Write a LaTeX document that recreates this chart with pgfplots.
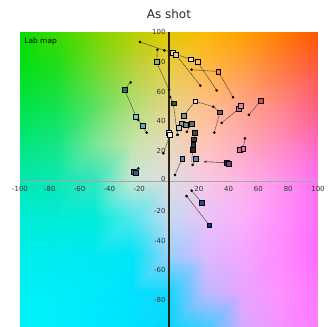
\begin{filecontents*}[overwrite]{labcells.dat}
0 1 10
0 10 9
1 2 11
1 11 10
2 3 12
2 12 11
3 4 13
3 13 12
4 5 14
4 14 13
5 6 15
5 15 14
6 7 16
6 16 15
7 8 17
7 17 16
9 10 19
9 19 18
10 11 20
10 20 19
11 12 21
11 21 20
12 13 22
12 22 21
13 14 23
13 23 22
14 15 24
14 24 23
15 16 25
15 25 24
16 17 26
16 26 25
18 19 28
18 28 27
19 20 29
19 29 28
20 21 30
20 30 29
21 22 31
21 31 30
22 23 32
22 32 31
23 24 33
23 33 32
24 25 34
24 34 33
25 26 35
25 35 34
27 28 37
27 37 36
28 29 38
28 38 37
29 30 39
29 39 38
30 31 40
30 40 39
31 32 41
31 41 40
32 33 42
32 42 41
33 34 43
33 43 42
34 35 44
34 44 43
36 37 46
36 46 45
37 38 47
37 47 46
38 39 48
38 48 47
39 40 49
39 49 48
40 41 50
40 50 49
41 42 51
41 51 50
42 43 52
42 52 51
43 44 53
43 53 52
45 46 55
45 55 54
46 47 56
46 56 55
47 48 57
47 57 56
48 49 58
48 58 57
49 50 59
49 59 58
50 51 60
50 60 59
51 52 61
51 61 60
52 53 62
52 62 61
54 55 64
54 64 63
55 56 65
55 65 64
56 57 66
56 66 65
57 58 67
57 67 66
58 59 68
58 68 67
59 60 69
59 69 68
60 61 70
60 70 69
61 62 71
61 71 70
63 64 73
63 73 72
64 65 74
64 74 73
65 66 75
65 75 74
66 67 76
66 76 75
67 68 77
67 77 76
68 69 78
68 78 77
69 70 79
69 79 78
70 71 80
70 80 79
\end{filecontents*}
\documentclass[border=0pt]{standalone}
\usepackage{pgfplots}
\usepackage{pgfplotstable}
\pgfplotsset{compat=1.18}
\usetikzlibrary{arrows.meta}
\usepackage{fontspec}
\setmainfont{DejaVu Sans}

% a*b* colour field on a 9x9 grid (L fixed), colours as 0-255 rgb
\pgfplotstableread{
x y c
-100 -100 rgb255=0,240,250
-75 -100 rgb255=0,238,252
-50 -100 rgb255=0,232,255
-25 -100 rgb255=0,225,255
0 -100 rgb255=0,215,255
25 -100 rgb255=60,205,255
50 -100 rgb255=215,170,255
75 -100 rgb255=245,145,255
100 -100 rgb255=255,125,255
-100 -75 rgb255=0,240,245
-75 -75 rgb255=0,238,248
-50 -75 rgb255=0,234,250
-25 -75 rgb255=0,226,255
0 -75 rgb255=20,215,255
25 -75 rgb255=190,185,255
50 -75 rgb255=232,165,255
75 -75 rgb255=255,145,255
100 -75 rgb255=255,120,255
-100 -50 rgb255=0,238,235
-75 -50 rgb255=0,236,238
-50 -50 rgb255=0,233,240
-25 -50 rgb255=0,228,246
0 -50 rgb255=150,208,252
25 -50 rgb255=222,185,255
50 -50 rgb255=245,165,255
75 -50 rgb255=255,140,255
100 -50 rgb255=255,110,255
-100 -25 rgb255=0,236,212
-75 -25 rgb255=0,236,214
-50 -25 rgb255=0,236,218
-25 -25 rgb255=80,232,236
0 -25 rgb255=195,218,243
25 -25 rgb255=235,195,248
50 -25 rgb255=252,175,250
75 -25 rgb255=255,145,250
100 -25 rgb255=255,112,248
-100 0 rgb255=0,232,178
-75 0 rgb255=10,232,180
-50 0 rgb255=50,230,190
-25 0 rgb255=195,232,215
0 0 rgb255=222,220,225
25 0 rgb255=248,200,228
50 0 rgb255=255,178,232
75 0 rgb255=255,148,238
100 0 rgb255=255,112,240
-100 25 rgb255=0,230,125
-75 25 rgb255=20,230,130
-50 25 rgb255=120,230,150
-25 25 rgb255=195,228,170
0 25 rgb255=232,218,185
25 25 rgb255=255,195,185
50 25 rgb255=255,170,185
75 25 rgb255=255,140,190
100 25 rgb255=255,105,195
-100 50 rgb255=0,226,70
-75 50 rgb255=20,226,80
-50 50 rgb255=90,225,95
-25 50 rgb255=175,222,115
0 50 rgb255=228,212,135
25 50 rgb255=255,190,140
50 50 rgb255=255,165,140
75 50 rgb255=255,135,135
100 50 rgb255=255,95,130
-100 75 rgb255=0,224,25
-75 75 rgb255=30,222,30
-50 75 rgb255=110,218,45
-25 75 rgb255=180,212,60
0 75 rgb255=230,205,75
25 75 rgb255=255,185,70
50 75 rgb255=255,160,70
75 75 rgb255=255,125,65
100 75 rgb255=255,90,70
-100 100 rgb255=0,222,0
-75 100 rgb255=60,218,0
-50 100 rgb255=120,214,0
-25 100 rgb255=180,208,0
0 100 rgb255=228,200,0
25 100 rgb255=252,185,0
50 100 rgb255=255,160,0
75 100 rgb255=255,125,0
100 100 rgb255=255,85,0
}\labgrid

\pgfplotsset{
  seg/.style={black!75, line width=0.55bp, dash pattern=on 1.3bp off 0.6bp, forget plot},
  sqmark/.style={only marks, mark=square*, mark size=2.4bp, forget plot,
    mark options={draw=black, line width=0.5bp}},
}
% one measured patch: a*, b*, fill colour (0-255)
\newcommand\patch[5]{%
  \addplot[sqmark, mark options={fill={rgb,255:red,#3;green,#4;blue,#5}}]
    coordinates {(#1,#2)};}

\begin{document}
\begin{tikzpicture}[x=1bp,y=1bp]
\begin{axis}[
  at={(20bp,-3bp)}, anchor=south west,
  width=298bp, height=298bp, scale only axis,
  set layers,
  xmin=-100, xmax=100, ymin=-100, ymax=100,
  axis lines=middle,
  every inner x axis line/.append style={-, draw=black!35, line width=0.5bp},
  every inner y axis line/.append style={-, draw=black!75!brown, line width=1.1bp},
  xtick={-100,-80,-60,-40,-20,20,40,60,80,100},
  ytick={-100,-80,-60,-40,-20,20,40,60,80,100},
  major tick length=0pt,
  /pgf/number format/assume math mode=true,
  tick label style={font=\fontsize{7}{8}\selectfont, text=black!80},
  xticklabel style={yshift=-1.5bp},
  clip=true,
]

\addplot[patch, shader=interp, patch table=labcells.dat,
  mesh/color input=explicit, point meta=explicit symbolic,
  on layer=axis background, forget plot] table[meta=c] {\labgrid};

% shift vectors between patch pairs
\addplot[seg] coordinates {(-19.4,93.3) (-3.1,87.7) (2.5,86.3) (4.5,85) (14.5,81.8) (19,80.3)};
\addplot[seg] coordinates {(-7.8,88.1) (-8.3,79.8)};
\addplot[seg] coordinates {(-8.3,79.8) (0,61.2) (0.7,56.3) (2.9,52.2) (5.6,31)};
\addplot[seg] coordinates {(4.5,85) (21,64)};
\addplot[seg] coordinates {(19,80.3) (32,60.8)};
\addplot[seg] coordinates {(15.2,74.7) (33,73.5) (43,56.2)};
\addplot[seg] coordinates {(61.7,54) (53.6,44.4)};
\addplot[seg] coordinates {(47,48.5) (35.3,39)};
\addplot[seg] coordinates {(34.2,46.2) (30.4,32.5)};
\addplot[seg] coordinates {(9.6,43.6) (17.6,53.5) (29.7,49.9) (34.2,46.2)};
\addplot[seg] coordinates {(-29.9,61.5) (-25.7,66.2)};
\addplot[seg] coordinates {(-29.9,61.5) (-22.1,43.2) (-20.6,40.9) (-17.9,36.9) (-15,32.4)};
\addplot[seg] coordinates {(-23.9,6.3) (-20.6,8.5)};
\addplot[seg] coordinates {(0.7,30.9) (-3.8,18.6)};
\addplot[seg] coordinates {(8.9,15.2) (4,4)};
\addplot[seg, solid, -{Stealth[length=3bp,width=2.6bp]}] coordinates {(38.7,12.3) (23.3,13)};
\addplot[seg] coordinates {(49.8,21.9) (51,28.6)};
\addplot[seg] coordinates {(21.9,-14.3) (15.2,-6.5)};
\addplot[seg] coordinates {(27,-29.6) (11.8,-10.1)};
\addplot[seg] coordinates {(6.3,36) (5.8,31)};
\addplot[seg] coordinates {(17.4,32.4) (16.3,24.2) (15.9,20.8) (15.2,13)};
\addplot[seg] coordinates {(18.1,14.8) (15.9,10.8)};
\addplot[seg] coordinates {(15.2,38.7) (12,33)};

% reference points
\addplot[only marks, mark=*, mark size=1.1bp, black, forget plot] coordinates {
(-19.4,93.3) (-7.8,88.1) (-3.1,87.7) (0,61.2) (0.7,56.3) (15.2,74.7) (21,64)
(32,60.8) (43,56.2) (53.6,44.4) (35.3,39) (30.4,32.5) (29.7,49.9) (-25.7,66.2)
(-20.6,40.9) (-15,32.4) (-20.6,8.5) (-3.8,18.6) (4,4) (51,28.6)
(15.2,-6.5) (11.8,-10.1) (5.8,31) (15.9,10.8) (16.3,27.5) (12,33) (5.6,31)
};

% measured patches
\patch{2.5}{86.3}{240}{220}{160}
\patch{4.5}{85}{235}{205}{140}
\patch{-8.3}{79.8}{160}{175}{90}
\patch{14.5}{81.8}{245}{225}{200}
\patch{19}{80.3}{235}{185}{120}
\patch{33}{73.5}{220}{140}{60}
\patch{61.7}{54}{215}{70}{90}
\patch{47}{48.5}{210}{110}{150}
\patch{48}{50.5}{225}{130}{170}
\patch{17.6}{53.5}{235}{215}{215}
\patch{34.2}{46.2}{110}{90}{90}
\patch{2.9}{52.2}{60}{85}{55}
\patch{-29.9}{61.5}{40}{120}{95}
\patch{-22.1}{43.2}{110}{200}{200}
\patch{-17.9}{36.9}{90}{175}{185}
\patch{-23.9}{6.3}{50}{115}{150}
\patch{-22.5}{5.5}{40}{100}{140}
\patch{0}{32.5}{250}{250}{250}
\patch{0.7}{30.9}{245}{245}{245}
\patch{9.6}{43.6}{130}{140}{150}
\patch{8.5}{38.7}{150}{160}{175}
\patch{11.4}{38}{120}{130}{140}
\patch{15.2}{38.7}{100}{110}{120}
\patch{6.3}{36}{190}{200}{215}
\patch{17.4}{32.4}{70}{70}{75}
\patch{16.8}{28}{60}{60}{65}
\patch{16.3}{24.2}{50}{50}{55}
\patch{15.9}{20.8}{40}{40}{45}
\patch{8.9}{15.2}{90}{130}{200}
\patch{18.1}{14.8}{100}{130}{190}
\patch{38.7}{12.3}{60}{35}{80}
\patch{39.8}{11.4}{120}{60}{140}
\patch{47.6}{20.8}{215}{100}{180}
\patch{49.8}{21.9}{225}{110}{185}
\patch{21.9}{-14.3}{40}{70}{170}
\patch{27}{-29.6}{30}{40}{140}

\node[anchor=north west, font=\fontsize{7.5}{8}\selectfont, inner sep=0pt]
  at (rel axis cs:0.014,0.982) {Lab map};
\node[anchor=east, font=\fontsize{7}{8}\selectfont, text=black!80]
  at (axis cs:0,1.5) {0};
\end{axis}
\node[font=\fontsize{12}{14}\selectfont, text=black!85] at (169,313) {As shot};
\pgfresetboundingbox
\useasboundingbox (0,0) rectangle (328,327);
\end{tikzpicture}
\end{document}
